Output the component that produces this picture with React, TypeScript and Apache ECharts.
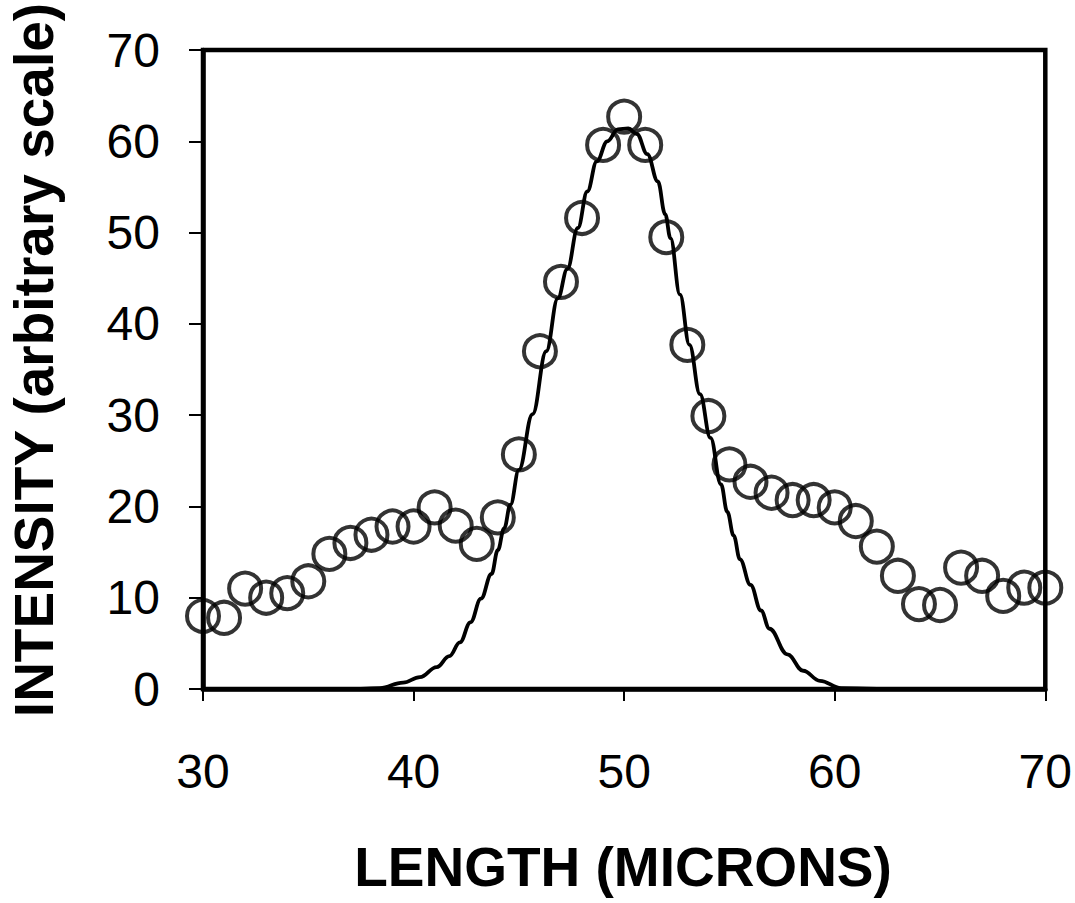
import React, { useEffect, useRef } from "react";
import * as echarts from "echarts";

// Measured points (circles)
const pointX = [30, 31, 32, 33, 34, 35, 36, 37, 38, 39, 40, 41, 42, 43, 44, 45, 46, 47, 48, 49, 50, 51, 52, 53, 54, 55, 56, 57, 58, 59, 60, 61, 62, 63, 64, 65, 66, 67, 68, 69, 70];
const pointY = [8.0, 7.8, 11.0, 10.0, 10.5, 11.8, 14.8, 16.0, 16.9, 17.8, 17.8, 19.9, 17.9, 15.9, 18.8, 25.7, 37.0, 44.6, 51.6, 59.6, 62.7, 59.6, 49.5, 37.7, 29.9, 24.6, 22.7, 21.5, 20.7, 20.7, 19.9, 18.4, 15.6, 12.4, 9.3, 9.2, 13.3, 12.4, 10.2, 11.1, 11.1];

// Fitted curve (solid line)
const curveX = [37.5, 38.4, 39.5, 40.3, 41.1, 41.7, 42.2, 42.7, 43.2, 43.7, 44.0, 44.3, 44.6, 45.0, 45.65, 46.3, 46.85, 47.3, 47.8, 48.25, 48.7, 49.2, 49.7, 50.2, 50.6, 51.1, 51.6, 51.95, 52.2, 52.65, 53.1, 53.6, 54.1, 54.6, 54.9, 55.2, 55.5, 56.0, 56.5, 56.9, 57.75, 58.5, 59.3, 60.3, 62.0];
const curveY = [0, 0.1, 0.7, 1.3, 2.4, 3.6, 5.1, 7.3, 9.9, 12.6, 15.2, 17.6, 20.2, 24.0, 30.1, 37.0, 42.8, 46.0, 50.5, 54.5, 57.8, 60.0, 61.3, 61.4, 60.8, 58.6, 55.6, 52.0, 49.4, 43.2, 37.7, 32.3, 27.5, 22.4, 19.4, 16.8, 14.2, 11.4, 8.6, 6.6, 3.8, 2.0, 0.9, 0.1, 0];

const xTicks = [30, 40, 50, 60, 70];
const yTicks = [0, 10, 20, 30, 40, 50, 60, 70];

const xTitle = "LENGTH (MICRONS)";
const yTitle = "INTENSITY (arbitrary scale)";

export default function App() {
  const ref = useRef<HTMLDivElement>(null);

  useEffect(() => {
    if (!ref.current) return;
    const chart = echarts.init(ref.current, undefined, { renderer: "svg" });
    const font = "Liberation Sans, Arial, sans-serif";
    chart.setOption({
      animation: false,
      backgroundColor: "#ffffff",
      grid: {
        left: 203,
        right: 29,
        top: 50,
        bottom: 214,
        show: true,
        borderColor: "#000",
        borderWidth: 4.5,
        backgroundColor: "transparent",
      },
      xAxis: {
        type: "value",
        min: xTicks[0],
        max: xTicks[xTicks.length - 1],
        interval: 10,
        axisLine: { show: true, lineStyle: { color: "#000", width: 4.5 } },
        axisTick: { show: true, inside: false, length: 12, lineStyle: { color: "#000", width: 2 } },
        axisLabel: { show: true, margin: 58, fontSize: 48, color: "#000", fontFamily: font },
        splitLine: { show: false },
      },
      yAxis: {
        type: "value",
        min: yTicks[0],
        max: yTicks[yTicks.length - 1],
        interval: 10,
        axisLine: { show: true, lineStyle: { color: "#000", width: 4.5 } },
        axisTick: { show: true, inside: false, length: 14, lineStyle: { color: "#000", width: 2 } },
        axisLabel: { show: true, margin: 43, fontSize: 48, color: "#000", fontFamily: font },
        splitLine: { show: false },
      },
      series: [
        {
          type: "line",
          data: curveX.map((x, i) => [x, curveY[i]]),
          showSymbol: false,
          smooth: 0.4,
          smoothMonotone: "x",
          lineStyle: { color: "#000", width: 3.8 },
          z: 3,
        },
        {
          type: "scatter",
          data: pointX.map((x, i) => [x, pointY[i]]),
          symbol: "circle",
          symbolSize: 32,
          itemStyle: { color: "transparent", borderColor: "#000", borderWidth: 4 },
          z: 4,
        },
      ],
      graphic: [
        {
          type: "text",
          x: 623,
          y: 867,
          style: {
            text: xTitle,
            font: `bold 55px ${font}`,
            fill: "#000",
            align: "center",
            verticalAlign: "middle",
          },
        },
        {
          type: "text",
          x: 34,
          y: 360,
          rotation: Math.PI / 2,
          style: {
            text: yTitle,
            font: `bold 55px ${font}`,
            fill: "#000",
            align: "center",
            verticalAlign: "middle",
          },
        },
      ],
    });
    return () => chart.dispose();
  }, []);

  return (
    <div
      ref={ref}
      style={{ position: "fixed", left: 0, top: 0, width: 1075, height: 903, background: "#fff" }}
    />
  );
}
